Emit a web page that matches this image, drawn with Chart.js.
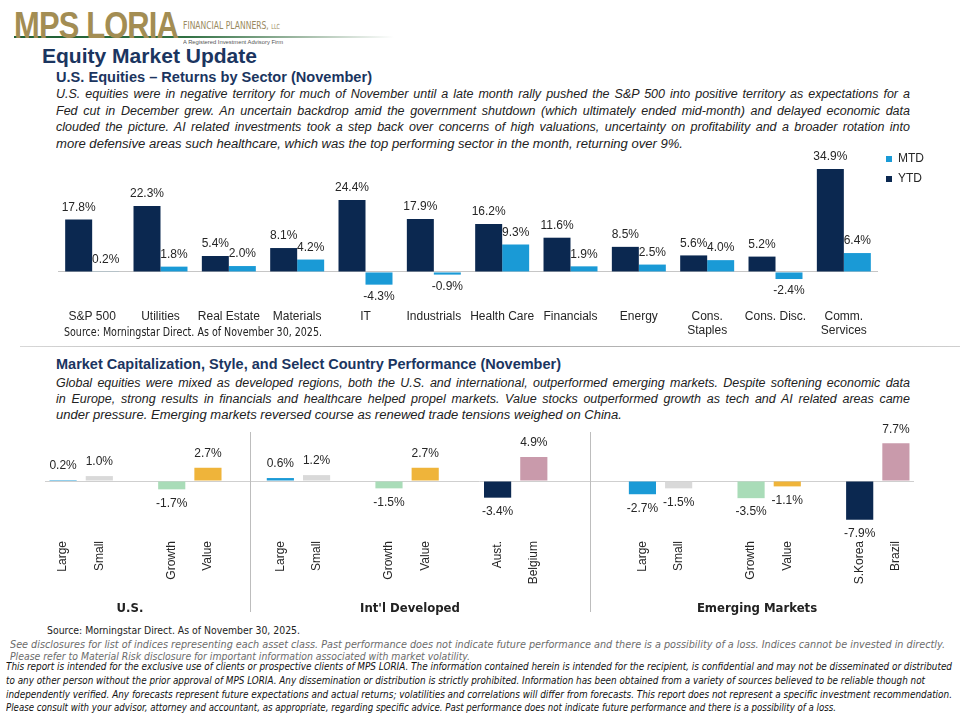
<!DOCTYPE html>
<html>
<head>
<meta charset="utf-8">
<script src="https://cdn.jsdelivr.net/npm/chart.js@4.4.1/dist/chart.umd.min.js"></script>
<style>
  html, body { margin: 0; padding: 0; background: #fff; }
  body { width: 960px; height: 720px; position: relative; overflow: hidden; font-family: 'Liberation Sans', Arial, sans-serif; color: #222; }
  .t { position: absolute; white-space: nowrap; display: inline-block; transform-origin: 0 50%; }
  .navy { color: #1b3560; font-weight: bold; }
  .para { font-style: italic; font-size: 12.5px; line-height: 15px; color: #222; }
  .narrow { font-family: 'Liberation Sans Narrow', 'DejaVu Sans Condensed', Arial, sans-serif; }
  .box { position: absolute; }
</style>
</head>
<body>

<!-- header / logo -->
<div class="box" style="left:14px;top:36px;width:380px;height:2px;background:linear-gradient(to right,#1f5e34 0%,#2f7042 45%,#9fb9a4 75%,rgba(220,220,220,0) 100%);"></div>
<div class="t" data-w="164" style="left:14px;top:8px;font-size:36px;line-height:36px;font-weight:bold;color:#a38d53;letter-spacing:-1px;">MPS LORIA</div>
<div class="t narrow" data-w="97" style="left:183px;top:20px;font-size:11px;line-height:12px;color:#9a8a60;">FINANCIAL PLANNERS, <span style="font-size:7px">LLC</span></div>
<div class="t" data-w="100" style="left:183px;top:39px;font-size:6px;line-height:7px;color:#555;">A Registered Investment Advisory Firm</div>

<div class="t navy" data-w="215" style="left:42px;top:44px;font-size:20px;line-height:24px;">Equity Market Update</div>
<div class="t navy" data-w="316" style="left:56px;top:68px;font-size:14.5px;line-height:18px;">U.S. Equities – Returns by Sector (November)</div>

<div class="t para jl" data-w="854" style="left:56px;top:87px;">U.S. equities were in negative territory for much of November until a late month rally pushed the S&amp;P 500 into positive territory as expectations for a</div>
<div class="t para jl" data-w="854" style="left:56px;top:103.5px;">Fed cut in December grew. An uncertain backdrop amid the government shutdown (which ultimately ended mid-month) and delayed economic data</div>
<div class="t para jl" data-w="854" style="left:56px;top:120px;">clouded the picture. AI related investments took a step back over concerns of high valuations, uncertainty on profitability and a broader rotation into</div>
<div class="t para" data-w="627" style="left:56px;top:136.5px;">more defensive areas such healthcare, which was the top performing sector in the month, returning over 9%.</div>

<!-- sector chart -->
<div class="box" style="left:40px;top:145px;width:900px;height:200px;"><canvas id="sectorChart"></canvas></div>
<div class="t narrow" data-w="258" style="left:64px;top:325px;font-size:12px;line-height:14px;color:#222;">Source: Morningstar Direct. As of November 30, 2025.</div>

<div class="box" style="left:20px;top:346px;width:940px;height:1px;background:linear-gradient(to right,#d8d8d8,#9a9a9a 35%,#b8b8b8 70%,#cfcfcf);"></div>

<div class="t navy" data-w="505" style="left:56px;top:355px;font-size:14.5px;line-height:18px;">Market Capitalization, Style, and Select Country Performance (November)</div>
<div class="t para jl" data-w="854" style="left:56px;top:375.5px;">Global equities were mixed as developed regions, both the U.S. and international, outperformed emerging markets. Despite softening economic data</div>
<div class="t para jl" data-w="854" style="left:56px;top:391.5px;">in Europe, strong results in financials and healthcare helped propel markets. Value stocks outperformed growth as tech and AI related areas came</div>
<div class="t para" data-w="566" style="left:56px;top:407.5px;">under pressure. Emerging markets reversed course as renewed trade tensions weighed on China.</div>

<!-- performance chart -->
<div class="box" style="left:40px;top:420px;width:920px;height:195px;"><canvas id="perfChart"></canvas></div>
<div id="groupLabels"></div>

<!-- footer -->
<div class="t narrow" data-w="253" style="left:47px;top:624px;font-size:11px;line-height:14px;color:#222;">Source: Morningstar Direct. As of November 30, 2025.</div>
<div class="t narrow" data-w="935" style="left:10px;top:638px;font-size:10.5px;line-height:12px;font-style:italic;color:#6b6b6b;">See disclosures for list of indices representing each asset class. Past performance does not indicate future performance and there is a possibility of a loss. Indices cannot be invested in directly.</div>
<div class="t narrow" data-w="460" style="left:10px;top:650px;font-size:10.5px;line-height:12px;font-style:italic;color:#6b6b6b;">Please refer to Material Risk disclosure for important information associated with market volatility.</div>
<div class="t narrow" data-w="946" style="left:6px;top:661px;font-size:10px;line-height:12px;font-style:italic;color:#111;">This report is intended for the exclusive use of clients or prospective clients of MPS LORIA. The information contained herein is intended for the recipient, is confidential and may not be disseminated or distributed</div>
<div class="t narrow" data-w="919" style="left:6px;top:675px;font-size:10px;line-height:12px;font-style:italic;color:#111;">to any other person without the prior approval of MPS LORIA. Any dissemination or distribution is strictly prohibited. Information has been obtained from a variety of sources believed to be reliable though not</div>
<div class="t narrow" data-w="946" style="left:6px;top:689px;font-size:10px;line-height:12px;font-style:italic;color:#111;">independently verified. Any forecasts represent future expectations and actual returns; volatilities and correlations will differ from forecasts. This report does not represent a specific investment recommendation.</div>
<div class="t narrow" data-w="830" style="left:6px;top:702px;font-size:10px;line-height:12px;font-style:italic;color:#111;">Please consult with your advisor, attorney and accountant, as appropriate, regarding specific advice. Past performance does not indicate future performance and there is a possibility of a loss.</div>

<script>
// Sector returns (top chart)
const sectors = ['S&P 500', 'Utilities', 'Real Estate', 'Materials', 'IT', 'Industrials', 'Health Care',
    'Financials', 'Energy', ['Cons.', 'Staples'], 'Cons. Disc.', ['Comm.', 'Services']];
const ytd = [17.8, 22.3, 5.4, 8.1, 24.4, 17.9, 16.2, 11.6, 8.5, 5.6, 5.2, 34.9];
const mtd = [0.2, 1.8, 2.0, 4.2, -4.3, -0.9, 9.3, 1.9, 2.5, 4.0, -2.4, 6.4];

// Cap / style / country (bottom chart) - blanks are spacer slots
const perfLabels = ['Large', 'Small', '', 'Growth', 'Value', '',
    'Large', 'Small', '', 'Growth', 'Value', '', 'Aust.', 'Belgium', '', '',
    'Large', 'Small', '', 'Growth', 'Value', '', 'S.Korea', 'Brazil'];
const perfValues = [0.2, 1.0, null, -1.7, 2.7, null,
    0.6, 1.2, null, -1.5, 2.7, null, -3.4, 4.9, null, null,
    -2.7, -1.5, null, -3.5, -1.1, null, -7.9, 7.7];
const groupNames = ['U.S.', "Int'l Developed", 'Emerging Markets'];
const groupCenters = [130, 410, 757];

const NAVY = '#0b2850';
const SKY = '#1a9ad6';
const kindColors = { Large: SKY, Small: '#d9d9d9', Growth: '#a9dcb8', Value: '#efb43a', Aust: NAVY, Belgium: '#c99aab' };
const perfColors = ['Large', 'Small', null, 'Growth', 'Value', null,
    'Large', 'Small', null, 'Growth', 'Value', null, 'Aust', 'Belgium', null, null,
    'Large', 'Small', null, 'Growth', 'Value', null, 'Aust', 'Belgium'].map(k => k ? kindColors[k] : null);

// fit text lines to measured widths
document.querySelectorAll('[data-w]').forEach(el => {
    const w = +el.dataset.w;
    const nat = el.getBoundingClientRect().width;
    if (el.classList.contains('jl') && nat < w) {
        el.style.width = w + 'px';
        el.style.whiteSpace = 'normal';
        el.style.textAlign = 'justify';
        el.style.textAlignLast = 'justify';
    } else {
        el.style.transform = 'scaleX(' + (w / nat) + ')';
    }
});

Chart.defaults.font.family = "'Liberation Sans', Arial, sans-serif";
Chart.defaults.color = '#262626';

const valueLabels = {
    id: 'valueLabels',
    afterDatasetsDraw(chart, args, opts) {
        const ctx = chart.ctx;
        ctx.save();
        ctx.font = opts.font;
        ctx.fillStyle = '#262626';
        ctx.textAlign = 'center';
        ctx.textBaseline = 'middle';
        chart.data.datasets.forEach((ds, i) => {
            chart.getDatasetMeta(i).data.forEach((bar, j) => {
                const v = ds.data[j];
                if (v === null || v === undefined) return;
                const y = v >= 0 ? bar.y - opts.gap : bar.y + opts.gap;
                ctx.fillText(v.toFixed(1) + '%', bar.x, y);
            });
        });
        ctx.restore();
    }
};

// vertical separators between the three groups
const separators = {
    id: 'separators',
    afterDraw(chart, args, opts) {
        const x = chart.scales.x;
        const slot = x.getPixelForValue(1) - x.getPixelForValue(0);
        const ctx = chart.ctx;
        ctx.save();
        ctx.strokeStyle = '#bdbdbd';
        ctx.lineWidth = 1;
        opts.at.forEach(pos => {
            const px = Math.round(x.getPixelForValue(Math.floor(pos)) + (pos % 1) * slot) + 0.5;
            ctx.beginPath();
            ctx.moveTo(px, chart.chartArea.top + 2);
            ctx.lineTo(px, chart.height - 3);
            ctx.stroke();
        });
        ctx.restore();
    }
};

new Chart(document.getElementById('sectorChart'), {
    type: 'bar',
    data: {
        labels: sectors,
        datasets: [
            { label: 'YTD', data: ytd, backgroundColor: NAVY, categoryPercentage: 0.79, barPercentage: 1 },
            { label: 'MTD', data: mtd, backgroundColor: SKY, categoryPercentage: 0.79, barPercentage: 1 }
        ]
    },
    options: {
        responsive: true,
        maintainAspectRatio: false,
        animation: false,
        layout: { padding: { left: 18, right: 6, top: 0, bottom: 0 } },
        scales: {
            x: {
                grid: { display: false, drawTicks: false },
                border: { display: false },
                ticks: { autoSkip: false, maxRotation: 0, minRotation: 0, padding: 9, font: { size: 12 }, color: '#262626' },
                afterFit: s => { s.height = 45; }
            },
            y: {
                min: -9.5,
                max: 43,
                afterFit: s => { s.width = 0; },
                afterBuildTicks: s => { s.ticks = [{ value: 0 }]; },
                ticks: { display: false },
                border: { display: false },
                grid: { color: '#c6c6c6', drawTicks: false }
            }
        },
        plugins: {
            legend: {
                position: 'right',
                align: 'start',
                reverse: true,
                labels: { boxWidth: 6, boxHeight: 6, padding: 8, font: { size: 12 }, color: '#262626' }
            },
            tooltip: { enabled: false },
            valueLabels: { gap: 12, font: "12px 'Liberation Sans', Arial, sans-serif" }
        }
    },
    plugins: [valueLabels]
});

new Chart(document.getElementById('perfChart'), {
    type: 'bar',
    data: {
        labels: perfLabels,
        datasets: [{ data: perfValues, backgroundColor: perfColors, categoryPercentage: 1, barPercentage: 0.75 }]
    },
    options: {
        responsive: true,
        maintainAspectRatio: false,
        animation: false,
        layout: { padding: { left: 5, right: 46, top: 10, bottom: 23 } },
        scales: {
            x: {
                grid: { display: false, drawTicks: false },
                border: { display: false },
                ticks: { autoSkip: false, maxRotation: 90, minRotation: 90, padding: 9, font: { size: 12 }, color: '#262626' },
                afterFit: s => { s.height = 60; }
            },
            y: {
                min: -10.4,
                max: 10.4,
                afterFit: s => { s.width = 0; },
                afterBuildTicks: s => { s.ticks = [{ value: 0 }]; },
                ticks: { display: false },
                border: { display: false },
                grid: { color: '#cfcfcf', drawTicks: false }
            }
        },
        plugins: {
            legend: { display: false },
            tooltip: { enabled: false },
            valueLabels: { gap: 14, font: "12px 'Liberation Sans', Arial, sans-serif" },
            separators: { at: [5.15, 14.55] }
        }
    },
    plugins: [valueLabels, separators]
});

// group captions under the bottom chart
const gl = document.getElementById('groupLabels');
groupNames.forEach((name, i) => {
    const d = document.createElement('div');
    d.className = 't narrow';
    d.textContent = name;
    d.style.cssText = 'top:600px;font-size:13px;line-height:16px;font-weight:bold;color:#222;';
    gl.appendChild(d);
    d.style.left = (groupCenters[i] - d.getBoundingClientRect().width / 2) + 'px';
});
</script>
</body>
</html>
